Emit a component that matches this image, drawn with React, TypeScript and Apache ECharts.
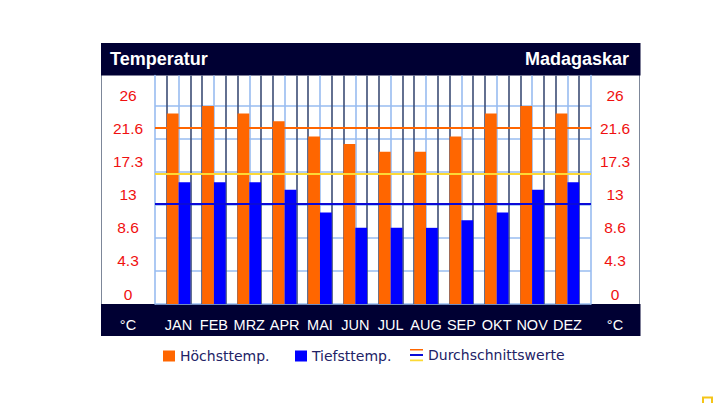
import React, { useEffect, useRef } from 'react';
import * as echarts from 'echarts';

// ---- data ----
const months = ['JAN', 'FEB', 'MRZ', 'APR', 'MAI', 'JUN', 'JUL', 'AUG', 'SEP', 'OKT', 'NOV', 'DEZ'];
const highTemps = [25, 26, 25, 24, 22, 21, 20, 20, 22, 25, 26, 25];
const lowTemps = [16, 16, 16, 15, 12, 10, 10, 10, 11, 12, 15, 16];
const avgHigh = 23.2;
const avgLow = 13.2;
const avgMid = 17.1;
const yTickStep = 26 / 6;
const yMax = 30;
const titleLeft = 'Temperatur';
const titleRight = 'Madagaskar';
const unitLabel = '°C';
const legendNames = ['Höchsttemp.', 'Tiefsttemp.', 'Durchschnittswerte'];

// ---- styles ----
const ORANGE = '#ff6600';
const BLUE = '#0000ff';
const AVG_BLUE = '#0a0ad8';
const YELLOW = '#fcd935';
const NAVY = '#000033';
const LIGHT = '#98bcf0';
const DARK = '#3d4d75';
const RED = '#f01010';

const plotL = 155;
const plotR = 591;
const plotT = 75.5;
const plotB = 304;
const plotW = plotR - plotL;
const plotH = plotB - plotT;
const sub = plotW / 37;

const avgIcon =
  'image://data:image/svg+xml;charset=utf-8,' +
  encodeURIComponent(
    `<svg xmlns="http://www.w3.org/2000/svg" width="13" height="13" viewBox="0 0 13 13">` +
      `<rect x="0" y="0" width="13" height="2" fill="${ORANGE}"/>` +
      `<rect x="0" y="5.5" width="13" height="2" fill="${AVG_BLUE}"/>` +
      `<rect x="0" y="11" width="13" height="2" fill="${YELLOW}"/>` +
      `</svg>`
  );

export default function App() {
  const ref = useRef<HTMLDivElement>(null);

  useEffect(() => {
    if (!ref.current) return;
    const chart = echarts.init(ref.current, undefined, { renderer: 'svg' });
    const labelFmt = (v: number) => (v > 27 ? '' : String(Math.floor(v * 10 + 1e-6) / 10));
    const yLabel = {
      color: RED,
      fontFamily: 'Liberation Sans',
      fontSize: 15.5,
      align: 'center',
      verticalAlign: 'bottom',
      lineHeight: 20,
      formatter: labelFmt,
    };
    const legendText = { color: '#222266', fontFamily: 'DejaVu Sans', fontSize: 14 };

    chart.setOption({
      animation: false,
      grid: [
        { left: plotL, top: plotT, width: plotW, height: plotH },
        { left: plotL + sub, top: plotT, width: plotW - 2 * sub, height: plotH },
        { left: plotL + sub / 2, top: plotT, width: plotW - sub, height: plotH },
      ],
      xAxis: [
        { gridIndex: 0, type: 'value', min: 0, max: 1, show: false },
        {
          gridIndex: 1,
          type: 'value',
          min: 0,
          max: 35,
          interval: 1,
          axisLine: { show: false },
          axisTick: { show: false },
          axisLabel: { show: false },
          splitLine: { show: true, lineStyle: { color: [DARK, LIGHT, DARK], width: 1.6 } },
        },
        {
          gridIndex: 2,
          type: 'category',
          data: months,
          axisLine: { show: false },
          axisTick: { show: false },
          splitLine: { show: false },
          axisLabel: {
            interval: 0,
            color: '#ffffff',
            fontFamily: 'Liberation Sans',
            fontSize: 14.5,
            margin: 21,
            verticalAlign: 'middle',
          },
        },
      ],
      yAxis: [
        {
          gridIndex: 0,
          type: 'value',
          position: 'left',
          min: 0,
          max: yMax,
          interval: yTickStep,
          axisLine: { show: true, lineStyle: { color: LIGHT, width: 1.6 } },
          axisTick: { show: false },
          axisLabel: { ...yLabel, margin: 27 },
          splitLine: { show: true, showMaxLine: false, lineStyle: { color: LIGHT, width: 1.6 } },
        },
        {
          gridIndex: 0,
          type: 'value',
          position: 'right',
          min: 0,
          max: yMax,
          interval: yTickStep,
          axisLine: { show: true, lineStyle: { color: LIGHT, width: 1.6 } },
          axisTick: { show: false },
          axisLabel: { ...yLabel, margin: 24 },
          splitLine: { show: false },
        },
        { gridIndex: 1, type: 'value', min: 0, max: yMax, show: false },
        { gridIndex: 2, type: 'value', min: 0, max: yMax, show: false },
      ],
      legend: [
        {
          left: 163,
          top: 349,
          padding: 0,
          itemWidth: 12,
          itemHeight: 11,
          selectedMode: false,
          data: [{ name: legendNames[0], icon: 'rect' }],
          textStyle: legendText,
        },
        {
          left: 295,
          top: 349,
          padding: 0,
          itemWidth: 12,
          itemHeight: 11,
          selectedMode: false,
          data: [{ name: legendNames[1], icon: 'rect' }],
          textStyle: legendText,
        },
        {
          left: 410,
          top: 348,
          padding: 0,
          itemWidth: 13,
          itemHeight: 13,
          selectedMode: false,
          data: [{ name: legendNames[2], icon: avgIcon }],
          textStyle: legendText,
        },
      ],
      series: [
        {
          name: legendNames[0],
          type: 'bar',
          xAxisIndex: 2,
          yAxisIndex: 3,
          data: highTemps,
          barWidth: '33.3%',
          barGap: '0%',
          itemStyle: { color: ORANGE },
          z: 2,
        },
        {
          name: legendNames[1],
          type: 'bar',
          xAxisIndex: 2,
          yAxisIndex: 3,
          data: lowTemps,
          barWidth: '33.3%',
          barGap: '0%',
          itemStyle: { color: BLUE },
          z: 2,
        },
        {
          name: legendNames[2],
          type: 'line',
          xAxisIndex: 0,
          yAxisIndex: 0,
          data: [],
          z: 5,
          itemStyle: { color: ORANGE },
          markLine: {
            silent: true,
            symbol: ['none', 'none'],
            label: { show: false },
            z: 5,
            data: [
              { yAxis: avgHigh, lineStyle: { color: ORANGE, width: 2, type: 'solid' } },
              { yAxis: avgMid, lineStyle: { color: YELLOW, width: 2, type: 'solid' } },
              { yAxis: avgLow, lineStyle: { color: AVG_BLUE, width: 2, type: 'solid' } },
            ],
          },
        },
      ],
      graphic: [
        {
          type: 'rect',
          z: -10,
          shape: { x: 101.5, y: 43.5, width: 538, height: 292 },
          style: { fill: '#ffffff', stroke: '#7d8799', lineWidth: 1 },
        },
        {
          type: 'rect',
          z: -5,
          shape: { x: 101, y: 43, width: 539.5, height: plotT - 43 },
          style: { fill: NAVY },
        },
        {
          type: 'rect',
          z: -5,
          shape: { x: 101, y: plotB, width: 539.5, height: 32 },
          style: { fill: NAVY },
        },
        {
          type: 'text',
          z: 10,
          x: 110,
          y: 59,
          style: {
            text: titleLeft,
            fill: '#ffffff',
            font: 'bold 18px "Liberation Sans"',
            align: 'left',
            verticalAlign: 'middle',
          },
        },
        {
          type: 'text',
          z: 10,
          x: 629,
          y: 59,
          style: {
            text: titleRight,
            fill: '#ffffff',
            font: 'bold 18px "Liberation Sans"',
            align: 'right',
            verticalAlign: 'middle',
          },
        },
        {
          type: 'text',
          z: 10,
          x: 128,
          y: 325,
          style: {
            text: unitLabel,
            fill: '#ffffff',
            font: '14.5px "Liberation Sans"',
            align: 'center',
            verticalAlign: 'middle',
          },
        },
        {
          type: 'text',
          z: 10,
          x: 615,
          y: 325,
          style: {
            text: unitLabel,
            fill: '#ffffff',
            font: '14.5px "Liberation Sans"',
            align: 'center',
            verticalAlign: 'middle',
          },
        },
        {
          type: 'rect',
          z: 10,
          shape: { x: 703, y: 397.5, width: 9, height: 10 },
          style: { fill: 'none', stroke: '#f5c518', lineWidth: 2 },
        },
      ],
    });
    return () => chart.dispose();
  }, []);

  return (
    <div
      ref={ref}
      style={{ position: 'fixed', left: 0, top: 0, width: 717, height: 403, background: '#ffffff' }}
    />
  );
}
